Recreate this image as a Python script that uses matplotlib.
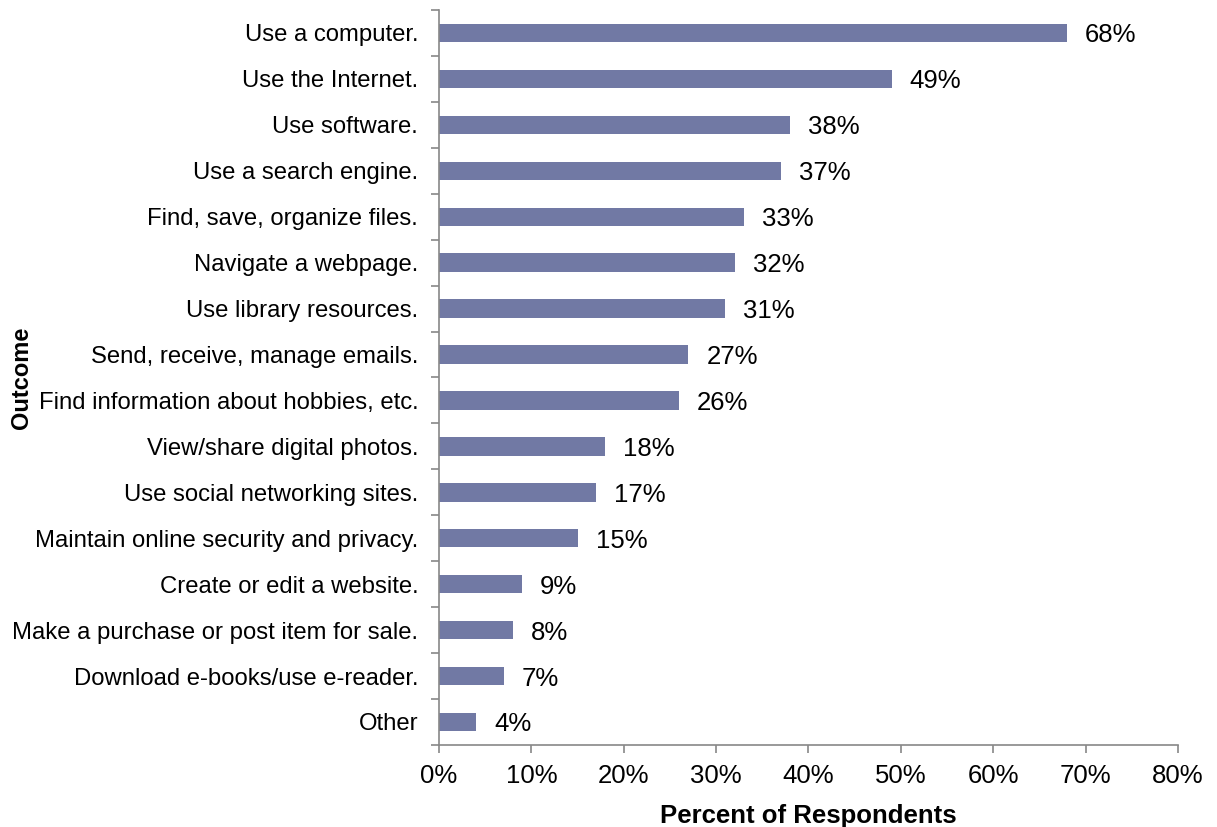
import numpy as np
import matplotlib.pyplot as plt
from matplotlib.ticker import FixedLocator

plt.rcParams['font.family'] = ['Liberation Sans', 'DejaVu Sans']

# data, top to bottom as shown
outcomes = ["Use a computer.", "Use the Internet.", "Use software.",
            "Use a search engine.", "Find, save, organize files.",
            "Navigate a webpage.", "Use library resources.",
            "Send, receive, manage emails.", "Find information about hobbies, etc.",
            "View/share digital photos.", "Use social networking sites.",
            "Maintain online security and privacy.", "Create or edit a website.",
            "Make a purchase or post item for sale.",
            "Download e-books/use e-reader.", "Other"]
percents = [68, 49, 38, 37, 33, 32, 31, 27, 26, 18, 17, 15, 9, 8, 7, 4]
xticks = [0, 10, 20, 30, 40, 50, 60, 70, 80]

fig = plt.figure(figsize=(12.17, 8.27), dpi=100)
ax = fig.add_axes([0.3607, 0.0992, 0.6072, 0.8887])

n = len(outcomes)
y = np.arange(n)[::-1]
ax.barh(y, percents, height=0.4, color='#7179a4')

for yi, p in zip(y, percents):
    ax.text(p + 1.95, yi, f"{p}%", va='center_baseline', ha='left', fontsize=18.5)

ax.set_xlim(0, 80)
ax.set_ylim(-0.5, n - 0.5)
ax.set_xticks(xticks)
ax.set_xticklabels([f"{t}%" for t in xticks], fontsize=18.5)
ax.set_yticks(y)
ax.set_yticklabels(outcomes, fontsize=17.2)
ax.yaxis.set_minor_locator(FixedLocator(np.arange(-0.5, n, 1.0)))
ax.tick_params(axis='y', which='major', length=0, pad=15)
ax.tick_params(axis='y', which='minor', length=6, color='#888888', width=1.2)
ax.tick_params(axis='x', length=6, color='#888888', width=1.2, pad=8)

for s in ['top', 'right']:
    ax.spines[s].set_visible(False)
for s in ['left', 'bottom']:
    ax.spines[s].set_color('#888888')
    ax.spines[s].set_linewidth(1.2)

ax.set_xlabel("Percent of Respondents", fontsize=18.5, fontweight='bold', labelpad=11)
ax.set_ylabel("Outcome", fontsize=17, fontweight='bold')
ax.yaxis.set_label_coords(-0.550, 0.5)

fig.savefig("out.png", dpi=100)
